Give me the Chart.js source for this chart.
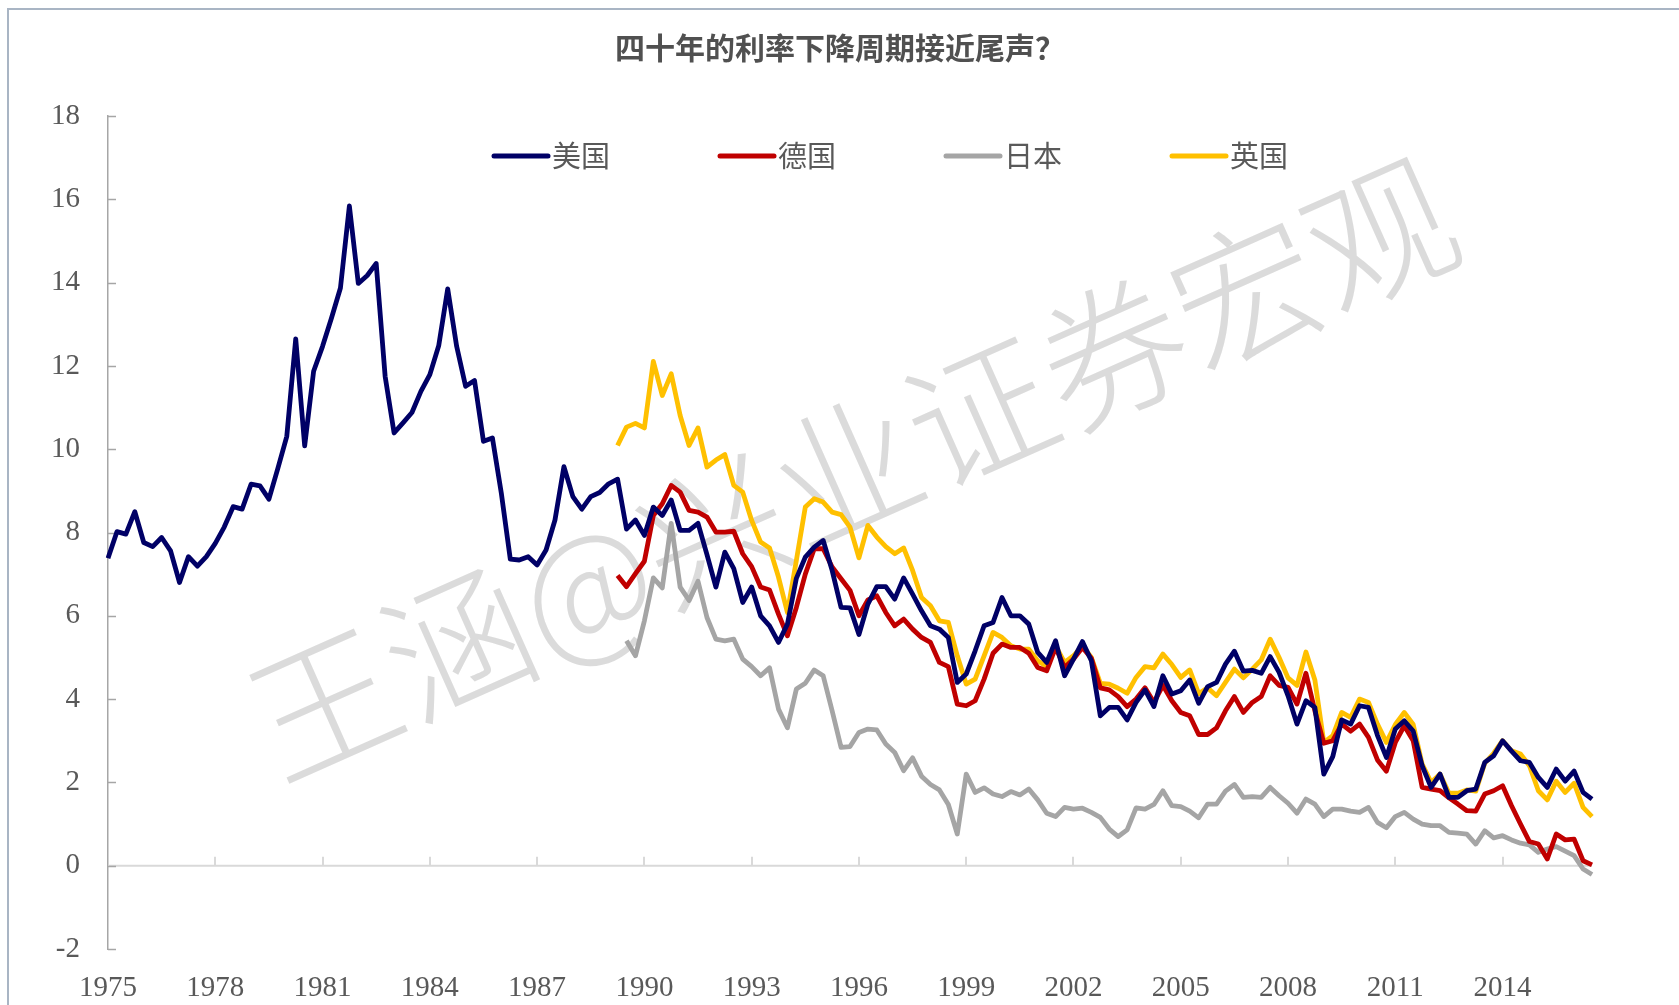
<!DOCTYPE html>
<html>
<head>
<meta charset="utf-8">
<script src="https://cdn.jsdelivr.net/npm/chart.js@4.4.0/dist/chart.umd.min.js"></script>
<style>
html, body { margin: 0; padding: 0; background: #fff; }
canvas { display: block; }
</style>
</head>
<body>
<canvas id="myChart" width="1679" height="1005"></canvas>
<script>
const chartTitle = '四十年的利率下降周期接近尾声？';
const watermark = '王涵@兴业证券宏观';
const seriesNames = ['美国', '德国', '日本', '英国'];
const seriesColors = ['#000066', '#C00000', '#A5A5A5', '#FFC000'];

// quarterly data, 1975Q1 .. 2016Q3, a year label every 12 quarters
const startYear = 1975;
const quarterCount = 167;
const tickEvery = 12;

const us = [
    7.38, 8.02, 7.96, 8.50, 7.76, 7.66, 7.88, 7.56, 6.80, 7.42, 7.19, 7.42,
    7.74, 8.13, 8.62, 8.56, 9.16, 9.12, 8.80, 9.54, 10.31, 12.65, 10.08, 11.87,
    12.47, 13.15, 13.87, 15.84, 13.98, 14.17, 14.46, 11.75, 10.39, 10.63, 10.88, 11.39,
    11.79, 12.49, 13.85, 12.47, 11.51, 11.65, 10.19, 10.27, 8.94, 7.36, 7.34, 7.42,
    7.22, 7.58, 8.30, 9.58, 8.86, 8.56, 8.86, 8.96, 9.17, 9.28, 8.08, 8.30,
    7.93, 8.61, 8.41, 8.78, 8.05, 8.05, 8.22, 7.47, 6.69, 7.53, 7.13, 6.32,
    6.69, 6.00, 5.76, 5.36, 5.80, 6.90, 7.41, 7.65, 7.81, 7.09, 6.20, 6.19,
    5.55, 6.28, 6.70, 6.70, 6.40, 6.91, 6.52, 6.12, 5.76, 5.68, 5.48, 4.40,
    4.60, 5.16, 5.76, 5.84, 6.44, 6.00, 6.00, 5.80, 5.12, 4.88, 5.40, 4.56,
    4.96, 5.38, 4.92, 3.60, 3.80, 3.80, 3.50, 3.92, 4.22, 3.82, 4.56, 4.12,
    4.20, 4.46, 3.90, 4.30, 4.40, 4.84, 5.15, 4.67, 4.69, 4.62, 5.02, 4.64,
    4.08, 3.40, 3.96, 3.80, 2.20, 2.62, 3.50, 3.40, 3.84, 3.80, 3.13, 2.60,
    3.28, 3.48, 3.23, 2.40, 1.88, 2.20, 1.64, 1.64, 1.80, 1.84, 2.48, 2.64,
    3.00, 2.75, 2.52, 2.48, 2.12, 1.88, 2.32, 2.03, 2.27, 1.76, 1.60
];

// Germany and UK start in 1989Q2, Japan in 1989Q3
const deStart = 57;
const de = [
    6.97, 6.70, 7.01, 7.31, 8.41, 8.69, 9.13, 8.97, 8.53, 8.49, 8.37, 8.01,
    8.01, 8.03, 7.49, 7.18, 6.69, 6.62, 6.04, 5.52, 6.20, 7.00, 7.61, 7.61,
    7.17, 6.89, 6.61, 6.00, 6.38, 6.48, 6.08, 5.76, 5.92, 5.68, 5.48, 5.36,
    4.88, 4.78, 3.88, 3.84, 3.96, 4.48, 5.10, 5.32, 5.24, 5.24, 5.10, 4.76,
    4.68, 5.24, 4.76, 4.96, 5.24, 4.98, 4.27, 4.22, 4.06, 3.82, 4.00, 4.27,
    3.92, 4.33, 3.96, 3.68, 3.60, 3.15, 3.15, 3.31, 3.72, 4.06, 3.68, 3.92,
    4.06, 4.56, 4.33, 4.28, 3.88, 4.62, 3.72, 2.94, 3.00, 3.40, 3.23, 3.40,
    3.08, 2.54, 2.27, 2.96, 3.36, 3.00, 1.88, 1.84, 1.80, 1.63, 1.48, 1.32,
    1.31, 1.72, 1.80, 1.92, 1.44, 1.00, 0.58, 0.52, 0.16, 0.76, 0.62, 0.64,
    0.12, 0.02
];

const jpStart = 58;
const jp = [
    5.40, 5.04, 5.88, 6.91, 6.67, 8.22, 6.69, 6.37, 6.83, 5.96, 5.44, 5.40,
    5.44, 4.96, 4.78, 4.56, 4.75, 3.76, 3.31, 4.24, 4.38, 4.70, 4.56, 3.72,
    2.84, 2.86, 3.20, 3.28, 3.26, 2.92, 2.72, 2.28, 2.59, 2.15, 1.95, 1.82,
    1.47, 0.76, 2.20, 1.76, 1.87, 1.72, 1.66, 1.78, 1.70, 1.84, 1.58, 1.26,
    1.18, 1.40, 1.36, 1.38, 1.28, 1.16, 0.88, 0.70, 0.86, 1.39, 1.36, 1.47,
    1.80, 1.44, 1.42, 1.31, 1.15, 1.48, 1.48, 1.79, 1.95, 1.64, 1.66, 1.64,
    1.88, 1.68, 1.50, 1.26, 1.60, 1.48, 1.18, 1.36, 1.36, 1.31, 1.28, 1.40,
    1.04, 0.91, 1.18, 1.28, 1.12, 1.00, 0.96, 0.96, 0.80, 0.78, 0.76, 0.52,
    0.84, 0.67, 0.72, 0.62, 0.54, 0.50, 0.32, 0.40, 0.46, 0.35, 0.24, -0.08,
    -0.21
];

const ukStart = 57;
const uk = [
    10.09, 10.53, 10.62, 10.51, 12.11, 11.29, 11.81, 10.81, 10.09, 10.51, 9.57, 9.74,
    9.87, 9.13, 8.97, 8.29, 7.77, 7.63, 6.93, 6.08, 7.33, 8.61, 8.81, 8.73,
    8.49, 8.43, 8.13, 7.39, 8.17, 7.89, 7.66, 7.49, 7.63, 7.09, 6.44, 6.24,
    5.88, 5.84, 5.04, 4.36, 4.48, 5.04, 5.60, 5.48, 5.28, 5.20, 5.20, 4.92,
    4.78, 5.28, 4.88, 5.04, 5.28, 5.00, 4.38, 4.36, 4.26, 4.14, 4.52, 4.78,
    4.75, 5.08, 4.83, 4.52, 4.70, 4.13, 4.27, 4.08, 4.40, 4.72, 4.51, 4.72,
    4.94, 5.44, 5.00, 4.51, 4.33, 5.13, 4.46, 2.96, 3.12, 3.68, 3.56, 4.00,
    3.92, 3.40, 2.96, 3.39, 3.68, 3.39, 2.44, 2.00, 2.20, 1.74, 1.74, 1.82,
    1.79, 2.46, 2.70, 3.00, 2.76, 2.68, 2.40, 1.80, 1.58, 2.03, 1.76, 1.98,
    1.40, 1.18
];

const yMin = -2;
const yMax = 18;
const yStep = 2;

var labels = [];
for (var i = 0; i < quarterCount; i++) {
    labels.push((startYear + Math.floor(i / 4)) + 'Q' + (i % 4 + 1));
}

function padFront(start, values) {
    return new Array(start).fill(null).concat(values);
}

var seriesData = [us, padFront(deStart, de), padFront(jpStart, jp), padFront(ukStart, uk)];

var datasets = seriesNames.map(function(name, k) {
    return {
        label: name,
        data: seriesData[k],
        borderColor: seriesColors[k],
        backgroundColor: seriesColors[k],
        borderWidth: 4.8,
        pointRadius: 0,
        tension: 0,
        fill: false,
        borderJoinStyle: 'round',
        spanGaps: false
    };
});

const cjkFont = '"Noto Sans CJK SC", "Noto Sans", sans-serif';
const textGrey = '#595959';

// frame, title, legend, watermark and the Excel-style inside ticks
var decorations = {
    id: 'decorations',
    beforeDatasetsDraw: function(chart) {
        var ctx = chart.ctx;
        var area = chart.chartArea;
        var x = chart.scales.x;
        var y = chart.scales.y;

        // watermark under the lines
        ctx.save();
        ctx.translate(852, 468);
        ctx.rotate(-24 * Math.PI / 180);
        ctx.font = '300 146px ' + cjkFont;
        ctx.fillStyle = 'rgba(200,200,200,0.65)';
        ctx.textAlign = 'center';
        ctx.textBaseline = 'middle';
        ctx.fillText(watermark, 0, 0);
        ctx.restore();

        // zero line with upward tick marks
        var y0 = y.getPixelForValue(0);
        ctx.save();
        ctx.strokeStyle = '#D9D9D9';
        ctx.lineWidth = 2;
        ctx.beginPath();
        ctx.moveTo(area.left, y0);
        ctx.lineTo(area.right, y0);
        for (var i = tickEvery; i < quarterCount; i += tickEvery) {
            var px = Math.round(x.getPixelForValue(i));
            ctx.moveTo(px, y0);
            ctx.lineTo(px, y0 - 9);
        }
        ctx.stroke();

        // y tick marks pointing inside
        ctx.strokeStyle = '#A6A6A6';
        ctx.lineWidth = 1.5;
        ctx.beginPath();
        for (var v = yMin; v <= yMax; v += yStep) {
            var py = Math.round(y.getPixelForValue(v)) + 0.5;
            ctx.moveTo(area.left, py);
            ctx.lineTo(area.left + 8, py);
        }
        ctx.stroke();
        ctx.restore();
    },
    afterDraw: function(chart) {
        var ctx = chart.ctx;
        ctx.save();

        // outer frame (top and left edges only are visible)
        ctx.strokeStyle = '#A9B5C4';
        ctx.lineWidth = 2;
        ctx.beginPath();
        ctx.moveTo(8, 1005);
        ctx.lineTo(8, 9);
        ctx.lineTo(1679, 9);
        ctx.stroke();

        // title
        ctx.fillStyle = '#505050';
        ctx.font = 'bold 30px ' + cjkFont;
        ctx.textAlign = 'center';
        ctx.textBaseline = 'middle';
        ctx.fillText(chartTitle, 840, 48);

        // legend
        ctx.font = '29px ' + cjkFont;
        ctx.textAlign = 'left';
        chart.data.datasets.forEach(function(ds, k) {
            var lx = 494 + k * 226;
            ctx.strokeStyle = ds.borderColor;
            ctx.lineWidth = 5;
            ctx.lineCap = 'round';
            ctx.beginPath();
            ctx.moveTo(lx, 156);
            ctx.lineTo(lx + 54, 156);
            ctx.stroke();
            ctx.fillStyle = textGrey;
            ctx.fillText(ds.label, lx + 58, 156);
        });
        ctx.restore();
    }
};

Chart.defaults.font.family = '"Liberation Serif", "Times New Roman", serif';
Chart.defaults.color = textGrey;

var chart = new Chart('myChart', {
    type: 'line',
    data: {
        labels: labels,
        datasets: datasets
    },
    options: {
        responsive: false,
        animation: false,
        layout: {
            padding: { left: 8, right: 87, top: 116, bottom: 0 }
        },
        plugins: {
            legend: { display: false },
            title: { display: false },
            tooltip: { enabled: false }
        },
        scales: {
            x: {
                type: 'category',
                offset: false,
                grid: { display: false, drawTicks: false },
                border: { display: false },
                afterFit: function(scale) { scale.height = 56; },
                ticks: {
                    autoSkip: false,
                    maxRotation: 0,
                    minRotation: 0,
                    padding: 22,
                    font: { size: 29 },
                    color: textGrey,
                    callback: function(value, index) {
                        return index % tickEvery === 0 ? String(startYear + index / 4) : null;
                    }
                }
            },
            y: {
                min: yMin,
                max: yMax,
                grid: { display: false, drawTicks: false },
                border: { display: true, color: '#A6A6A6', width: 1.5 },
                afterFit: function(scale) { scale.width = 100; },
                ticks: {
                    stepSize: yStep,
                    padding: 28,
                    font: { size: 29 },
                    color: textGrey
                }
            }
        }
    },
    plugins: [decorations]
});
</script>
</body>
</html>
